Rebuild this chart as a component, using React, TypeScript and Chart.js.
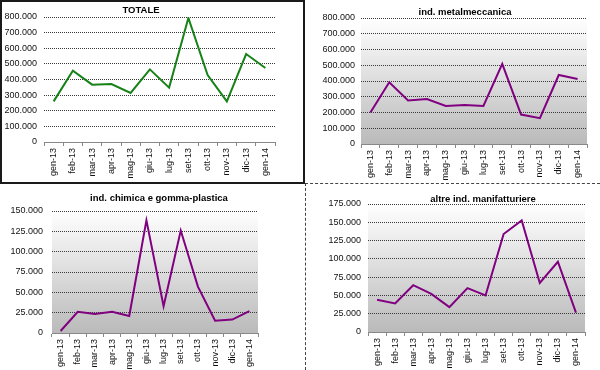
import React, { useEffect, useRef } from "react";
import { Chart, registerables } from "chart.js";

Chart.register(...registerables);

const categories = ["gen-13", "feb-13", "mar-13", "apr-13", "mag-13", "giu-13", "lug-13", "set-13", "ott-13", "nov-13", "dic-13", "gen-14"];
const totale = [260000, 456000, 367000, 371000, 314000, 465000, 348000, 794000, 429000, 260000, 563000, 474000];
const metalmeccanica = [200000, 392000, 276000, 286000, 242000, 248000, 242000, 509000, 187000, 164000, 438000, 413000];
const chimica = [2500, 26000, 23500, 26000, 21000, 138500, 33000, 126000, 57000, 15000, 16500, 27000];
const altre = [44000, 39000, 64000, 52000, 34000, 60000, 50000, 134000, 152500, 67000, 96000, 26500];

const titles = ["TOTALE", "ind. metalmeccanica", "ind. chimica e gomma-plastica", "altre ind. manifatturiere"];
const yMax = [800000, 800000, 150000, 175000];
const ySteps = [100000, 100000, 25000, 25000];

const FONT = "'Liberation Sans', Arial, sans-serif";

function fmt(v: number): string {
  return String(Math.round(v)).replace(/\B(?=(\d{3})+(?!\d))/g, ".");
}

type PanelCfg = {
  data: number[];
  title: string;
  color: string;
  max: number;
  step: number;
  left: number;
  top: number;
  width: number;
  height: number;
  pad: { left: number; top: number; right: number };
  yWidth: number;
  xHeight: number;
  titleX: number;
  titleY: number;
  gradient: boolean;
  yPad: number;
};

const titlePlugin = {
  id: "customTitle",
  afterDraw(chart: any, _args: any, opts: any) {
    const ctx = chart.ctx;
    ctx.save();
    ctx.font = `bold 9.5px ${FONT}`;
    ctx.fillStyle = "#000";
    ctx.textAlign = "center";
    ctx.textBaseline = "middle";
    ctx.fillText(opts.text, opts.x, opts.y);
    ctx.restore();
  },
};

const bgPlugin = {
  id: "plotBg",
  beforeDraw(chart: any, _args: any, opts: any) {
    if (!opts.gradient) return;
    const { ctx, chartArea } = chart;
    const g = ctx.createLinearGradient(0, chartArea.top, 0, chartArea.bottom);
    g.addColorStop(0, "#ffffff");
    g.addColorStop(1, "#bababa");
    ctx.save();
    ctx.fillStyle = g;
    ctx.fillRect(chartArea.left, chartArea.top, chartArea.right - chartArea.left, chartArea.bottom - chartArea.top);
    ctx.restore();
  },
};

function Panel({ cfg }: { cfg: PanelCfg }) {
  const ref = useRef<HTMLCanvasElement | null>(null);
  useEffect(() => {
    if (!ref.current) return;
    const chart = new Chart(ref.current, {
      type: "line",
      data: {
        labels: categories,
        datasets: [
          {
            data: cfg.data,
            borderColor: cfg.color,
            borderWidth: 2,
            pointRadius: 0,
            tension: 0,
            fill: false,
          },
        ],
      },
      options: {
        responsive: false,
        animation: false,
        layout: { padding: { left: cfg.pad.left, top: cfg.pad.top, right: cfg.pad.right, bottom: 0 } },
        plugins: {
          legend: { display: false },
          tooltip: { enabled: false },
          title: { display: false },
          customTitle: { text: cfg.title, x: cfg.titleX, y: cfg.titleY },
          plotBg: { gradient: cfg.gradient },
        } as any,
        scales: {
          x: {
            offset: true,
            grid: {
              display: true,
              offset: true,
              drawOnChartArea: false,
              drawTicks: true,
              tickLength: 4,
              color: "#888",
            },
            border: { display: true, color: "#888", width: 1 },
            ticks: {
              minRotation: 90,
              maxRotation: 90,
              autoSkip: false,
              padding: 2,
              color: "#111",
              font: { family: FONT, size: 9 },
            },
            afterFit: (s: any) => {
              s.height = cfg.xHeight;
            },
          },
          y: {
            min: 0,
            max: cfg.max,
            ticks: {
              stepSize: cfg.step,
              padding: cfg.yPad,
              color: "#111",
              font: { family: FONT, size: 9 },
              callback: (v: any) => fmt(Number(v)),
            },
            grid: { display: true, color: "#3a3a3a", drawTicks: false, lineWidth: 1 },
            border: { display: false, dash: [1, 1] },
            afterFit: (s: any) => {
              s.width = cfg.yWidth;
            },
          },
        },
      },
      plugins: [bgPlugin, titlePlugin],
    } as any);
    return () => chart.destroy();
  }, [cfg]);
  return (
    <canvas
      ref={ref}
      width={cfg.width}
      height={cfg.height}
      style={{ position: "absolute", left: cfg.left, top: cfg.top, width: cfg.width, height: cfg.height }}
    />
  );
}

const panels: PanelCfg[] = [
  {
    data: totale, title: titles[0], color: "#178217", max: yMax[0], step: ySteps[0],
    left: 0, top: 0, width: 304, height: 183,
    pad: { left: 0, top: 17, right: 29 }, yWidth: 44, xHeight: 41,
    titleX: 141, titleY: 10.5, gradient: false, yPad: 7,
  },
  {
    data: metalmeccanica, title: titles[1], color: "#800080", max: yMax[1], step: ySteps[1],
    left: 305, top: 0, width: 295, height: 183,
    pad: { left: 0, top: 18, right: 13 }, yWidth: 56, xHeight: 39,
    titleX: 160, titleY: 12.5, gradient: true, yPad: 6,
  },
  {
    data: chimica, title: titles[2], color: "#800080", max: yMax[2], step: ySteps[2],
    left: 0, top: 185, width: 304, height: 185,
    pad: { left: 0, top: 26, right: 46 }, yWidth: 52, xHeight: 37,
    titleX: 159, titleY: 13, gradient: true, yPad: 9,
  },
  {
    data: altre, title: titles[3], color: "#800080", max: yMax[3], step: ySteps[3],
    left: 306, top: 185, width: 294, height: 185,
    pad: { left: 0, top: 19, right: 15 }, yWidth: 62, xHeight: 38,
    titleX: 177, titleY: 14, gradient: true, yPad: 7,
  },
];

export default function App() {
  return (
    <div style={{ position: "absolute", left: 0, top: 0, width: 600, height: 370, background: "#fff", overflow: "hidden" }}>
      {panels.map((p, i) => (
        <Panel key={i} cfg={p} />
      ))}
      <div
        style={{
          position: "absolute", left: 0, top: 0, width: 305, height: 184,
          border: "2px solid #1a1a1a", boxSizing: "border-box", pointerEvents: "none",
        }}
      />
      <div style={{ position: "absolute", left: 305, top: 183, width: 295, height: 0, borderTop: "1px dashed #444" }} />
      <div style={{ position: "absolute", left: 305, top: 183, width: 0, height: 187, borderLeft: "1px dashed #444" }} />
    </div>
  );
}
